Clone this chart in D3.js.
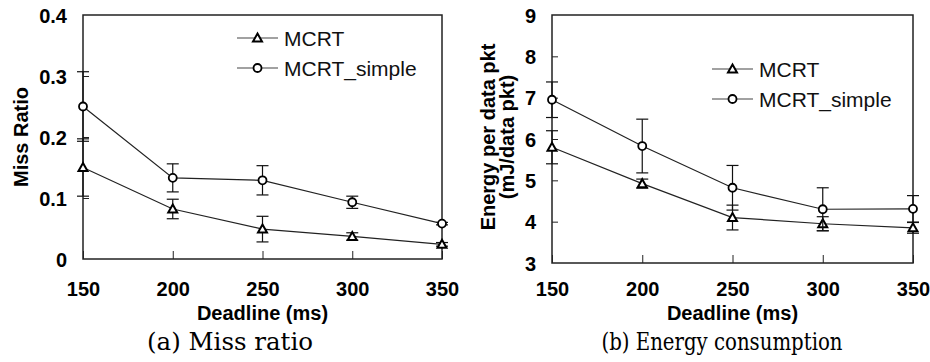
<!DOCTYPE html>
<html>
<style>
    body { margin: 0; background: #fff; }
    svg text { font-family: "Liberation Sans", Arial, sans-serif; fill: #000; }
    .tick-label, .axis-title { font-weight: bold; font-size: 20px; }
    .legend-label { font-size: 21px; fill: #111; }
    .caption { font-family: "DejaVu Serif", serif; font-size: 24px; }
</style>
<body>
<svg id="viz" width="930" height="362"></svg>

<script src="https://cdnjs.cloudflare.com/ajax/libs/d3/7.8.5/d3.min.js"></script>
<script>
    var deadlines = [150, 200, 250, 300, 350];
    var seriesNames = ['MCRT', 'MCRT_simple'];

    // (a) miss ratio
    var missMcrt = [0.150, 0.082, 0.049, 0.037, 0.024];
    var missMcrtErr = [0.047, 0.016, 0.021, 0.006, 0.003];
    var missSimple = [0.250, 0.133, 0.129, 0.093, 0.058];
    var missSimpleErr = [0.057, 0.023, 0.024, 0.010, 0.002];
    var missTicks = [0, 0.1, 0.2, 0.3, 0.4];

    // (b) energy per data packet
    var energyMcrt = [5.80, 4.92, 4.10, 3.95, 3.85];
    var energyMcrtErr = [0.40, 0.11, 0.30, 0.17, 0.13];
    var energySimple = [6.95, 5.83, 4.82, 4.30, 4.31];
    var energySimpleErr = [0.43, 0.65, 0.54, 0.52, 0.32];
    var energyTicks = [3, 4, 5, 6, 7, 8, 9];

    var svg = d3.select('#viz');

    drawPanel({
        left: 83, right: 442, top: 15, bottom: 259,
        yDomain: [0, 0.4], yTicks: missTicks, yFormat: function(d) { return d === 0 ? '0' : d3.format('.1f')(d); },
        series: [[missMcrt, missMcrtErr], [missSimple, missSimpleErr]],
        yTitle: ['Miss Ratio'], yTitleX: [28],
        legendX: 237, legendY: [38, 68],
        caption: '(a) Miss ratio', captionX: 230, captionW: 166
    });

    drawPanel({
        left: 552, right: 913, top: 15, bottom: 263,
        yDomain: [3, 9], yTicks: energyTicks, yFormat: d3.format('d'),
        series: [[energyMcrt, energyMcrtErr], [energySimple, energySimpleErr]],
        yTitle: ['Energy per data pkt', '(mJ/data pkt)'], yTitleX: [495, 514],
        legendX: 712, legendY: [69, 99],
        caption: '(b) Energy consumption', captionX: 722, captionW: 241
    });

    function drawPanel(c) {
        var x = d3.scaleLinear().domain([150, 350]).range([c.left, c.right]);
        var y = d3.scaleLinear().domain(c.yDomain).range([c.bottom, c.top]);
        var g = svg.append('g');

        // frame
        g.append('rect')
            .attr('x', c.left).attr('y', c.top)
            .attr('width', c.right - c.left).attr('height', c.bottom - c.top)
            .attr('fill', 'none').attr('stroke', '#222').attr('stroke-width', 1.5);

        // x axis, ticks pointing in
        var xAxis = d3.axisBottom(x).tickValues(deadlines).tickSizeInner(-8).tickSizeOuter(0);
        var gx = g.append('g').attr('transform', 'translate(0,' + c.bottom + ')').call(xAxis);
        gx.select('.domain').remove();
        gx.selectAll('line').attr('stroke', '#222');
        gx.selectAll('text').attr('class', 'tick-label').attr('dy', null).attr('y', 296 - c.bottom);

        // y axis, ticks pointing in
        var yAxis = d3.axisLeft(y).tickValues(c.yTicks).tickFormat(c.yFormat).tickSizeInner(-6).tickSizeOuter(0);
        var gy = g.append('g').attr('transform', 'translate(' + c.left + ',0)').call(yAxis);
        gy.select('.domain').remove();
        gy.selectAll('line').attr('stroke', '#222');
        gy.selectAll('text').attr('class', 'tick-label').attr('x', -16).attr('dy', '0.36em');
        gy.selectAll('.tick').filter(function(d) { return d === c.yDomain[0] || d === c.yDomain[1]; })
            .select('line').remove();

        // x title
        g.append('text').attr('class', 'axis-title')
            .attr('x', (c.left + c.right) / 2).attr('y', 320)
            .attr('text-anchor', 'middle').text('Deadline (ms)');

        // y title
        c.yTitle.forEach(function(t, i) {
            g.append('text').attr('class', 'axis-title')
                .attr('transform', 'translate(' + c.yTitleX[i] + ',' + 137 + ') rotate(-90)')
                .attr('text-anchor', 'middle').text(t);
        });

        var line = d3.line()
            .x(function(d, i) { return x(deadlines[i]); })
            .y(function(d) { return y(d); });

        c.series.forEach(function(s, k) {
            var vals = s[0], errs = s[1];
            var sg = g.append('g');

            // error bars
            vals.forEach(function(v, i) {
                var cx = x(deadlines[i]);
                var eb = sg.append('g').attr('stroke', '#111').attr('stroke-width', 1.2);
                eb.append('line').attr('x1', cx).attr('x2', cx).attr('y1', y(v - errs[i])).attr('y2', y(v + errs[i]));
                [v - errs[i], v + errs[i]].forEach(function(e) {
                    eb.append('line').attr('x1', cx - 6).attr('x2', cx + 6).attr('y1', y(e)).attr('y2', y(e));
                });
            });

            sg.append('path').datum(vals).attr('d', line)
                .attr('fill', 'none').attr('stroke', '#222').attr('stroke-width', 1.2);

            vals.forEach(function(v, i) {
                drawMarker(sg, k, x(deadlines[i]), y(v));
            });
        });

        // legend
        seriesNames.forEach(function(name, k) {
            var ly = c.legendY[k];
            g.append('line').attr('x1', c.legendX).attr('x2', c.legendX + 41)
                .attr('y1', ly).attr('y2', ly).attr('stroke', '#444').attr('stroke-width', 1.2);
            drawMarker(g, k, c.legendX + 20.5, ly);
            g.append('text').attr('class', 'legend-label')
                .attr('x', c.legendX + 47).attr('y', ly).attr('dy', '0.36em').text(name);
        });

        // caption
        g.append('text').attr('class', 'caption')
            .attr('x', c.captionX - c.captionW / 2).attr('y', 350)
            .attr('textLength', c.captionW).attr('lengthAdjust', 'spacingAndGlyphs')
            .text(c.caption);
    }

    function drawMarker(sel, k, cx, cy) {
        if (k === 0) {
            sel.append('path')
                .attr('d', 'M' + cx + ',' + (cy - 4.5) + 'L' + (cx + 4.5) + ',' + (cy + 3.5) + 'L' + (cx - 4.5) + ',' + (cy + 3.5) + 'Z')
                .attr('fill', '#fff').attr('stroke', '#000').attr('stroke-width', 2);
        } else {
            sel.append('circle').attr('cx', cx).attr('cy', cy).attr('r', 4)
                .attr('fill', '#fff').attr('stroke', '#000').attr('stroke-width', 1.8);
        }
    }
</script>
</body>
</html>
